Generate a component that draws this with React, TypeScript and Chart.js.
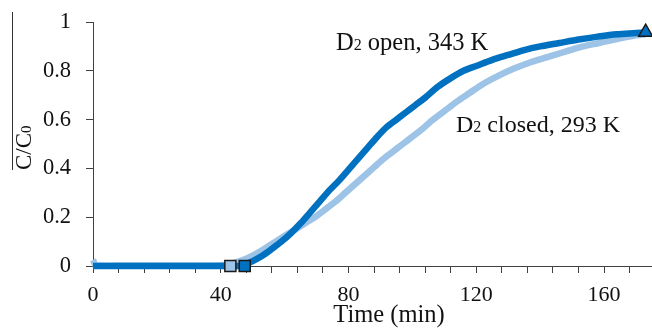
import React, { useEffect, useRef } from "react";
import { Chart, registerables } from "chart.js";

Chart.register(...registerables);

// ---- data ----
const openTime = [0, 10, 20, 30, 40, 45, 47, 50, 53, 56, 59, 62, 65, 68, 71, 74, 77, 80, 83, 86, 89, 92, 95, 98, 101, 104, 108, 112, 116, 120, 125, 130, 135, 140, 146, 152, 158, 164, 170, 173];
const openValue = [0, 0, 0, 0, 0, 0, 0.002, 0.02, 0.042, 0.07, 0.1, 0.135, 0.175, 0.22, 0.265, 0.31, 0.35, 0.395, 0.44, 0.485, 0.53, 0.57, 0.6, 0.63, 0.66, 0.69, 0.735, 0.77, 0.8, 0.82, 0.845, 0.865, 0.885, 0.9, 0.914, 0.928, 0.94, 0.95, 0.955, 0.958];

const closedTime = [0, 1, 10, 20, 30, 40, 43, 46, 49, 52, 55, 58, 61, 64, 67, 70, 73, 76, 79, 82, 85, 88, 91, 94, 97, 100, 103, 106, 110, 114, 118, 122, 127, 132, 137, 142, 147, 152, 158, 164, 170, 173];
const closedValue = [0.025, 0.003, 0.002, 0.002, 0.002, 0.003, 0.008, 0.02, 0.036, 0.057, 0.082, 0.107, 0.132, 0.155, 0.18, 0.205, 0.235, 0.265, 0.3, 0.335, 0.37, 0.405, 0.44, 0.47, 0.5, 0.53, 0.56, 0.595, 0.635, 0.675, 0.71, 0.745, 0.78, 0.81, 0.835, 0.855, 0.875, 0.895, 0.913, 0.93, 0.945, 0.95];

const closedMarker = { x: 43, y: 0 };
const openMarker = { x: 47.5, y: 0 };
const endMarker = { x: 173, y: 0.958 };

const xLabelEvery = 40;
const yTicks = [0, 0.2, 0.4, 0.6, 0.8, 1];

const DARK = "#0070C0";
const LIGHT = "#9DC3E6";
const AXIS = "#404040";
const FONT = "'Liberation Serif', 'Times New Roman', serif";

function pairs(xs: number[], ys: number[]) {
  return xs.map((x, i) => ({ x, y: ys[i] }));
}

const annotate = {
  id: "annotate",
  afterDraw(chart: any) {
    const ctx = chart.ctx as CanvasRenderingContext2D;
    ctx.save();
    ctx.fillStyle = "#111";
    ctx.textBaseline = "alphabetic";
    ctx.textAlign = "left";
    const sub = (x: number, y: number, a: string, s: string, b: string, size: number, ssize: number) => {
      ctx.font = `${size}px ${FONT}`;
      ctx.fillText(a, x, y);
      let w = ctx.measureText(a).width;
      ctx.font = `${ssize}px ${FONT}`;
      ctx.fillText(s, x + w, y);
      w += ctx.measureText(s).width;
      ctx.font = `${size}px ${FONT}`;
      ctx.fillText(b, x + w, y);
    };
    sub(336, 50, "D", "2", " open, 343 K", 24.5, 16);
    sub(456, 132, "D", "2", " closed, 293 K", 24, 16);

    // x title
    ctx.font = `24.5px ${FONT}`;
    ctx.textAlign = "center";
    ctx.fillText("Time (min)", 389, 322);

    // y title
    ctx.save();
    ctx.translate(31, 170);
    ctx.rotate(-Math.PI / 2);
    ctx.textAlign = "left";
    sub(0, 0, "C/C", "0", "", 23, 15);
    ctx.restore();
    ctx.strokeStyle = "#333";
    ctx.lineWidth = 1;
    ctx.beginPath();
    ctx.moveTo(12.5, 12);
    ctx.lineTo(12.5, 170);
    ctx.stroke();
    ctx.restore();
  },
};

export default function App() {
  const ref = useRef<HTMLCanvasElement | null>(null);
  useEffect(() => {
    document.body.style.margin = "0";
    const canvas = ref.current!;
    const chart = new Chart(canvas, {
      type: "scatter",
      data: {
        datasets: [
          {
            data: pairs(closedTime, closedValue),
            showLine: true,
            borderColor: LIGHT,
            borderWidth: 6.5,
            pointRadius: 0,
            tension: 0.3,
            clip: false,
            order: 3,
          } as any,
          {
            data: pairs(openTime, openValue),
            showLine: true,
            borderColor: DARK,
            borderWidth: 6.5,
            pointRadius: 0,
            tension: 0.3,
            clip: false,
            order: 2,
          } as any,
          {
            data: [closedMarker],
            pointStyle: "rect",
            pointRadius: 7.8,
            backgroundColor: LIGHT,
            borderColor: "#1a1a1a",
            borderWidth: 1.5,
            clip: false,
            order: 1,
          } as any,
          {
            data: [openMarker],
            pointStyle: "rect",
            pointRadius: 7.8,
            backgroundColor: DARK,
            borderColor: "#1a1a1a",
            borderWidth: 1.5,
            clip: false,
            order: 0,
          } as any,
          {
            data: [endMarker],
            pointStyle: "triangle",
            pointRadius: 8,
            backgroundColor: DARK,
            borderColor: "#1a1a1a",
            borderWidth: 1.5,
            clip: false,
            order: 0,
          } as any,
        ],
      },
      options: {
        animation: false,
        responsive: false,
        devicePixelRatio: 1,
        layout: { autoPadding: false, padding: { top: 22, right: 0, left: 0, bottom: 0 } },
        plugins: { legend: { display: false }, tooltip: { enabled: false } },
        scales: {
          x: {
            type: "linear",
            min: 0,
            max: 175,
            afterFit: (s: any) => {
              s.height = 63;
              s.paddingLeft = 0;
              s.paddingRight = 0;
            },
            grid: { display: true, drawOnChartArea: false, tickLength: 7, color: AXIS },
            border: { display: true, color: AXIS, width: 1 },
            ticks: {
              stepSize: 8,
              includeBounds: false,
              autoSkip: false,
              maxRotation: 0,
              padding: 9,
              color: "#111",
              font: { family: FONT, size: 22 },
              callback: (v: any) => (Number(v) % xLabelEvery === 0 ? String(v) : ""),
            },
          },
          y: {
            type: "linear",
            min: 0,
            max: 1,
            afterFit: (s: any) => {
              s.width = 93;
              s.paddingTop = 0;
              s.paddingBottom = 0;
            },
            afterBuildTicks: (s: any) => {
              s.ticks = yTicks.map((v) => ({ value: v }));
            },
            grid: { display: true, drawOnChartArea: false, tickLength: 7, color: AXIS },
            border: { display: true, color: AXIS, width: 1 },
            ticks: {
              padding: 15,
              color: "#111",
              font: { family: FONT, size: 22.5 },
              callback: (v: any) => String(Math.round(Number(v) * 10) / 10),
            },
          },
        },
      },
      plugins: [annotate],
    });
    return () => chart.destroy();
  }, []);
  return <canvas ref={ref} width={652} height={329} style={{ display: "block", width: 652, height: 329 }} />;
}
